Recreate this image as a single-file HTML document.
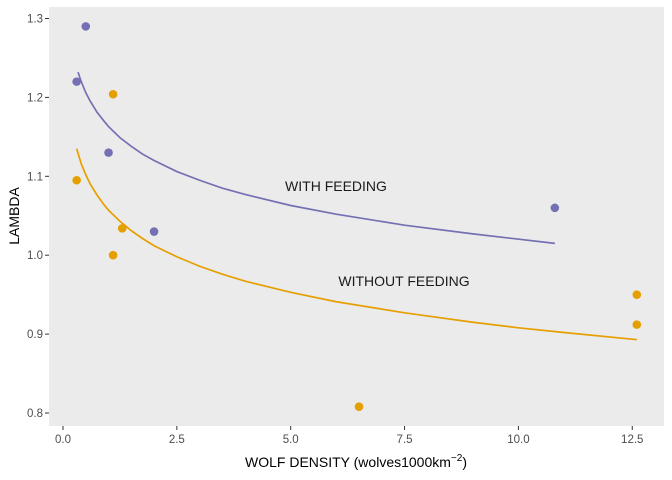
<!DOCTYPE html>
<html><head><meta charset="utf-8"><style>
body{margin:0;background:#fff}
svg{display:block;font-family:"Liberation Sans",Arial,sans-serif}
</style></head><body>
<svg id="chart" width="672" height="480">
<rect x="49" y="7" width="615" height="419" fill="#ebebeb"/>
<g id="axes"></g><g id="marks"></g>
<text x="336" y="191" text-anchor="middle" font-size="14" fill="#1a1a1a">WITH FEEDING</text>
<text x="404" y="286" text-anchor="middle" font-size="14" fill="#1a1a1a">WITHOUT FEEDING</text>
<text x="356" y="467" text-anchor="middle" font-size="14" fill="#000">WOLF DENSITY (wolves1000km<tspan dy="-6" font-size="10">−2</tspan><tspan dy="6">)</tspan></text>
<text transform="translate(19,216) rotate(-90)" text-anchor="middle" font-size="14" fill="#000">LAMBDA</text>
</svg>
<script>
const xTicks=[0,2.5,5,7.5,10,12.5];
const xTickLabels=["0.0","2.5","5.0","7.5","10.0","12.5"];
const yTicks=[0.8,0.9,1.0,1.1,1.2,1.3];
const yTickLabels=["0.8","0.9","1.0","1.1","1.2","1.3"];
const withX=[0.3,0.5,1.0,2.0,10.8];
const withY=[1.22,1.29,1.13,1.03,1.06];
const withoutX=[0.3,1.1,1.1,1.3,6.5,12.6,12.6];
const withoutY=[1.095,1.204,1.0,1.034,0.808,0.95,0.912];
const withFitX=[0.33,0.4,0.5,0.6,0.75,0.9,1,1.25,1.5,1.75,2,2.5,3,3.5,4,5,6,7.5,9,10.8];
const withFitY=[1.232,1.220,1.206,1.195,1.181,1.170,1.163,1.149,1.138,1.128,1.12,1.106,1.095,1.085,1.077,1.063,1.052,1.038,1.027,1.015];
const withoutFitX=[0.3,0.4,0.5,0.6,0.75,0.9,1,1.25,1.5,1.75,2,2.5,3,3.5,4,5,6,7.5,9,10,11,12.6];
const withoutFitY=[1.135,1.116,1.102,1.090,1.076,1.064,1.057,1.043,1.031,1.021,1.012,0.998,0.986,0.976,0.967,0.953,0.941,0.927,0.915,0.908,0.902,0.893];
const NS="http://www.w3.org/2000/svg";
const sx=v=>63+v*45.54;
const sy=v=>413-(v-0.8)*789;
function mk(t,a,p){const e=document.createElementNS(NS,t);for(const k in a)e.setAttribute(k,a[k]);p.appendChild(e);return e;}
const axes=document.getElementById('axes'),marks=document.getElementById('marks');
xTicks.forEach((v,i)=>{
 const t=mk('line',{x1:sx(v),x2:sx(v),y1:426,y2:430,stroke:'#333'},axes);
 
 
 const tx=mk('text',{x:sx(v),y:443,'text-anchor':'middle','font-size':11.5,fill:'#4d4d4d'},axes);
 tx.textContent=xTickLabels[i];
 
 
});
yTicks.forEach((v,i)=>{
 const t=mk('line',{x1:45,x2:49,y1:sy(v),y2:sy(v),stroke:'#333'},axes);
 
 
 const tx=mk('text',{x:43,y:sy(v)+4,'text-anchor':'end','font-size':11.5,fill:'#4d4d4d'},axes);
 tx.textContent=yTickLabels[i];
 
 
});
function line(xs,ys,c,name){
 const p=mk('polyline',{points:xs.map((x,i)=>sx(x)+','+sy(ys[i])).join(' '),fill:'none',stroke:c,'stroke-width':1.7},marks);
 
 
}
line(withFitX,withFitY,'#7570b3','with-feeding-fit');
line(withoutFitX,withoutFitY,'#e69f00','without-feeding-fit');
function pts(xs,ys,c,name){
 xs.forEach((x,i)=>{const e=mk('circle',{cx:sx(x),cy:sy(ys[i]),r:4.3,fill:c},marks);
 
 });
}
pts(withX,withY,'#7570b3','with-feeding-point');
pts(withoutX,withoutY,'#e69f00','without-feeding-point');
</script>
</body></html>
